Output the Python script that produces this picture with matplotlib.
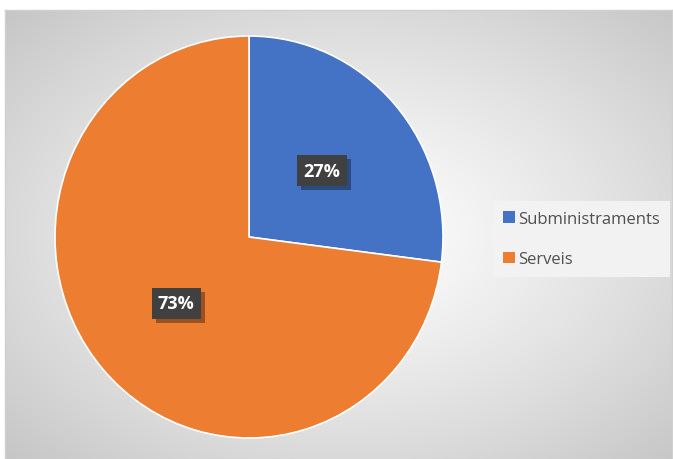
import numpy as np
import matplotlib.pyplot as plt
import matplotlib.patheffects as pe
from matplotlib.patches import Patch

labels = ['Subministraments', 'Serveis']
values = [27, 73]
colors = ['#4472C4', '#ED7D31']

W, H = 673, 460
fig = plt.figure(figsize=(W / 100, H / 100), dpi=100)
fig.patch.set_facecolor('white')

# chart area with radial grey gradient
bx0, by0, bx1, by1 = 5, 11, 672, 460
bg = fig.add_axes([bx0 / W, 0, (bx1 - bx0) / W, (by1 - by0) / H])
yy, xx = np.mgrid[by0:by1, bx0:bx1]
d = np.hypot((xx - 345) / 345.0, (yy - 235) / 230.0) / np.sqrt(2)
g = 1.0 - 0.23 * np.clip(d, 0, 1) ** 1.2
img = np.dstack([g, g, g])
bg.imshow(img, aspect='auto', extent=[0, 1, 0, 1], origin='upper')
bg.set_xlim(0, 1)
bg.set_ylim(0, 1)
bg.set_xticks([])
bg.set_yticks([])
for s in bg.spines.values():
    s.set_edgecolor('#d0d0d0')
    s.set_linewidth(1)

# pie
cx, cy, rx, ry = 249, 238, 194, 201
ax = fig.add_axes([(cx - rx) / W, (H - cy - ry) / H, 2 * rx / W, 2 * ry / H])
ax.set_facecolor('none')
wedges, _ = ax.pie(values, colors=colors, startangle=90, counterclock=False,
                   radius=1, wedgeprops=dict(linewidth=1.2, edgecolor='white'))
ax.set_xlim(-1, 1)
ax.set_ylim(-1, 1)
ax.set_aspect('auto')
ax.axis('off')

start = 90.0
for v in values:
    ang = np.deg2rad(start - v * 3.6 / 2)
    start -= v * 3.6
    x, y = 0.5 * np.cos(ang), 0.5 * np.sin(ang)
    t = ax.text(x, y, f'{v}%', ha='center', va='center', fontsize=13,
                fontweight='bold', color='white', family='Open Sans',
                bbox=dict(boxstyle='square,pad=0.35', facecolor='#404040',
                          edgecolor='none'))
    t.get_bbox_patch().set_path_effects([
        pe.SimplePatchShadow(offset=(3, -3), shadow_rgbFace='black', alpha=0.35),
        pe.Normal()])

handles = [Patch(facecolor=c, edgecolor='none') for c in colors]
leg = fig.legend(handles, labels, loc='upper left',
                 bbox_to_anchor=(493 / W, 1 - 202 / H), frameon=True,
                 handlelength=0.7, handleheight=0.7,
                 handletextpad=0.2, labelspacing=1.45, borderpad=0.6,
                 borderaxespad=0,
                 prop={'family': 'Open Sans', 'size': 12})
leg.get_frame().set_facecolor('#f2f2f2')
leg.get_frame().set_edgecolor('none')
leg.get_frame().set_boxstyle('square', pad=0)
leg.get_frame().set_alpha(1)
for t in leg.get_texts():
    t.set_color('#505050')

fig.savefig('out.png', dpi=100)
